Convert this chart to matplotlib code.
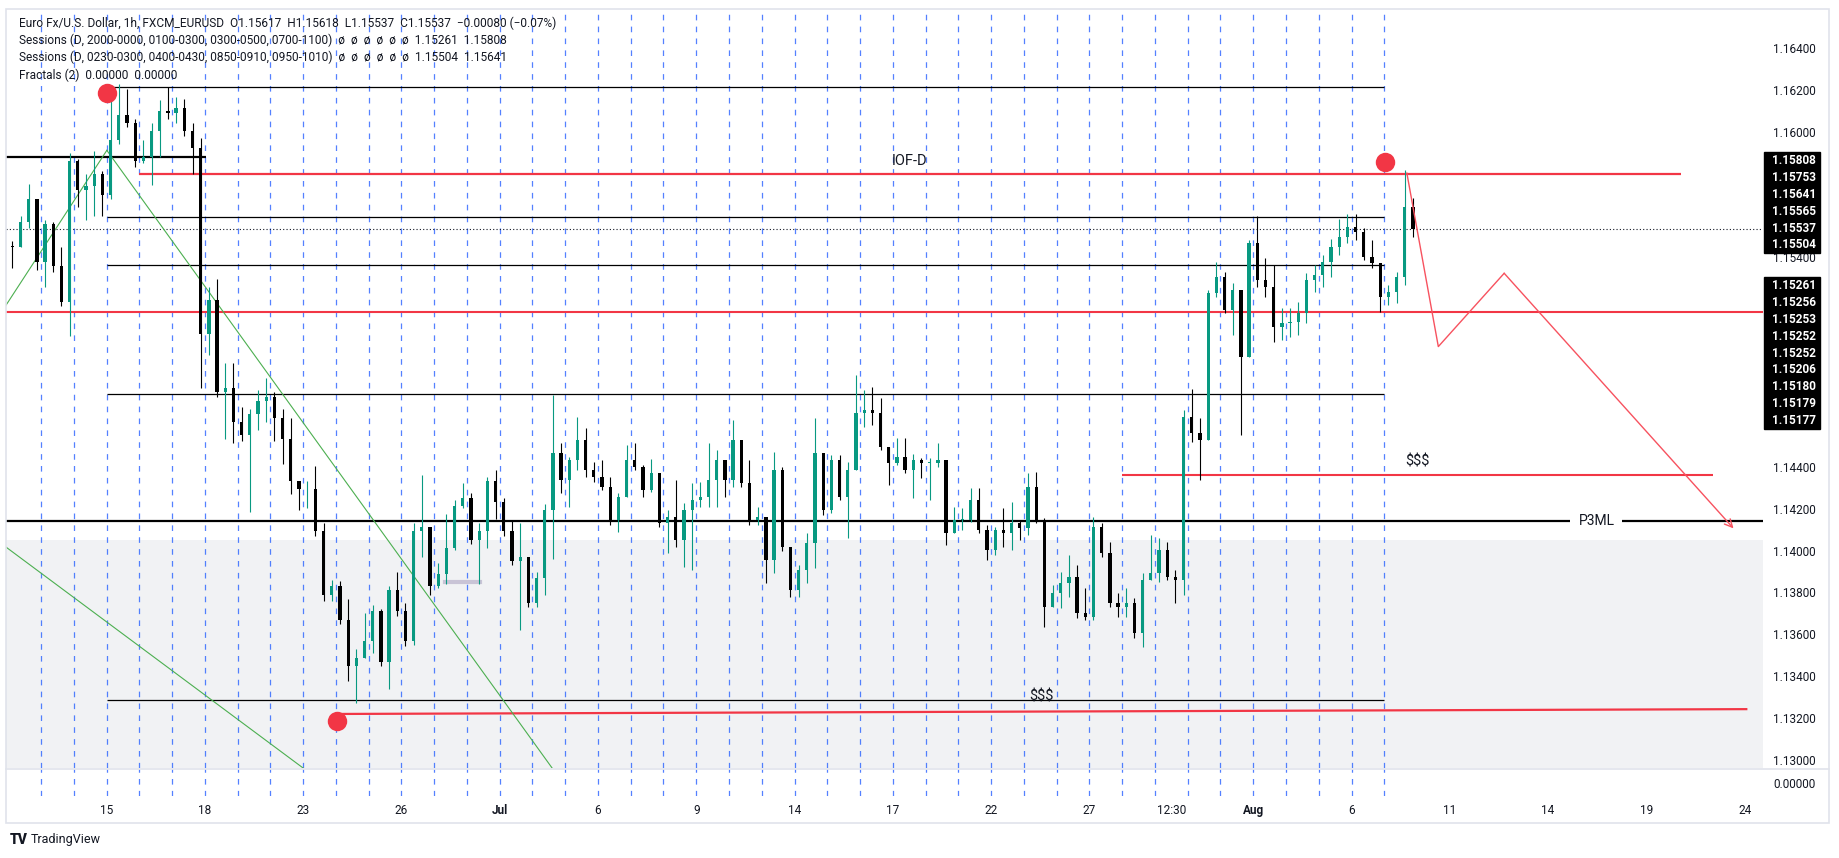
import numpy as np
import matplotlib.pyplot as plt
from matplotlib.patches import Rectangle

plt.rcParams['font.family'] = ['Roboto', 'DejaVu Sans']

W, H = 1840, 858

# EURUSD, grouped into 6h candles (4 per trading day)
# x unit = trading day index, first candle starts at day -1
first_day = -1.0
first_open = 1.15450
closes = [
    1.15448, 1.15569, 1.15680, 1.15378, 1.15559, 1.15358, 1.15187, 1.15860,
    1.15720, 1.15740, 1.15800, 1.15700, 1.15961, 1.16081, 1.16041, 1.15860,
    1.15880, 1.16001, 1.16101, 1.16091, 1.16112, 1.16001, 1.15921, 1.15036,
    1.15197, 1.14755, 1.14775, 1.14614, 1.14554, 1.14654, 1.14715, 1.14735,
    1.14634, 1.14534, 1.14333, 1.14292, 1.14292, 1.14092, 1.13790, 1.13830,
    1.13669, 1.13448, 1.13489, 1.13569, 1.13710, 1.13468, 1.13810, 1.13710,
    1.13569, 1.14092, 1.14112, 1.13830, 1.13890, 1.14011, 1.14212, 1.14252,
    1.14051, 1.14092, 1.14333, 1.14232, 1.14092, 1.13951, 1.13971, 1.13750,
    1.13870, 1.14192, 1.14464, 1.14337, 1.14433, 1.14528, 1.14385, 1.14353,
    1.14305, 1.14146, 1.14257, 1.14433, 1.14401, 1.14289, 1.14369, 1.14130,
    1.14162, 1.14050, 1.14194, 1.14241, 1.14257, 1.14337, 1.14433, 1.14337,
    1.14528, 1.14321, 1.14146, 1.14162, 1.13955, 1.14385, 1.14019, 1.13812,
    1.13907, 1.14035, 1.14464, 1.14194, 1.14433, 1.14257, 1.14385, 1.14655,
    1.14671, 1.14655, 1.14496, 1.14417, 1.14448, 1.14385, 1.14433, 1.14417,
    1.14417, 1.14433, 1.14082, 1.14146, 1.14146, 1.14241, 1.14098, 1.14003,
    1.14098, 1.14082, 1.14130, 1.14106, 1.14305, 1.14146, 1.13732, 1.13796,
    1.13844, 1.13875, 1.13700, 1.13684, 1.14114, 1.13987, 1.13748, 1.13732,
    1.13748, 1.13605, 1.13860, 1.13891, 1.14003, 1.13875, 1.13860, 1.14639,
    1.14560, 1.14528, 1.15228, 1.15308, 1.15149, 1.15244, 1.14926, 1.15467,
    1.15292, 1.15260, 1.15069, 1.15085, 1.15093, 1.15133, 1.15292, 1.15316,
    1.15380, 1.15451, 1.15499, 1.15547, 1.15523, 1.15404, 1.15372, 1.15213,
    1.15236, 1.15308, 1.15642, 1.15537,
]
highs = [
    1.15478, 1.15599, 1.15750, 1.15579, 1.15579, 1.15569, 1.15448, 1.15900,
    1.15870, 1.15800, 1.15910, 1.15810, 1.16218, 1.16226, 1.16202, 1.16061,
    1.15961, 1.16041, 1.16152, 1.16212, 1.16166, 1.16158, 1.16041, 1.15971,
    1.15257, 1.15298, 1.14896, 1.14896, 1.14684, 1.14674, 1.14765, 1.14825,
    1.14755, 1.14674, 1.14634, 1.14333, 1.14333, 1.14403, 1.14132, 1.13860,
    1.13854, 1.13770, 1.13529, 1.13700, 1.13740, 1.13720, 1.13830, 1.13900,
    1.13750, 1.14132, 1.14363, 1.14092, 1.13941, 1.14176, 1.14242, 1.14323,
    1.14276, 1.14132, 1.14353, 1.14383, 1.14252, 1.14142, 1.14132, 1.13971,
    1.13900, 1.14222, 1.14745, 1.14512, 1.14448, 1.14640, 1.14584, 1.14425,
    1.14433, 1.14353, 1.14273, 1.14504, 1.14512, 1.14409, 1.14436, 1.14361,
    1.14194, 1.14337, 1.14226, 1.14321, 1.14329, 1.14512, 1.14480, 1.14425,
    1.14624, 1.14528, 1.14433, 1.14210, 1.14074, 1.14472, 1.14401, 1.14003,
    1.13931, 1.14082, 1.14632, 1.14457, 1.14457, 1.14457, 1.14425, 1.14838,
    1.14767, 1.14783, 1.14727, 1.14496, 1.14536, 1.14536, 1.14461, 1.14441,
    1.14441, 1.14512, 1.14425, 1.14210, 1.14202, 1.14297, 1.14297, 1.14122,
    1.14114, 1.14202, 1.14233, 1.14146, 1.14369, 1.14377, 1.14154, 1.13836,
    1.13899, 1.13979, 1.13931, 1.13820, 1.14162, 1.14130, 1.14043, 1.13796,
    1.13820, 1.13772, 1.13891, 1.14074, 1.14059, 1.14043, 1.13907, 1.14671,
    1.14770, 1.14632, 1.15244, 1.15380, 1.15332, 1.15276, 1.15173, 1.15483,
    1.15598, 1.15396, 1.15364, 1.15157, 1.15157, 1.15189, 1.15324, 1.15364,
    1.15412, 1.15486, 1.15582, 1.15607, 1.15607, 1.15539, 1.15483, 1.15364,
    1.15268, 1.15332, 1.15817, 1.15682,
]
lows = [
    1.15348, 1.15478, 1.15539, 1.15338, 1.15257, 1.15328, 1.15167, 1.15026,
    1.15640, 1.15579, 1.15599, 1.15599, 1.15680, 1.15941, 1.16021, 1.15830,
    1.15850, 1.15744, 1.15880, 1.16061, 1.16041, 1.15981, 1.15800, 1.14775,
    1.14936, 1.14735, 1.14534, 1.14514, 1.14524, 1.14182, 1.14574, 1.14614,
    1.14524, 1.14413, 1.14272, 1.14192, 1.14202, 1.14071, 1.13760, 1.13760,
    1.13649, 1.13378, 1.13272, 1.13489, 1.13509, 1.13448, 1.13338, 1.13690,
    1.13543, 1.13549, 1.13971, 1.13790, 1.13820, 1.13840, 1.14001, 1.14202,
    1.14031, 1.13840, 1.14011, 1.14152, 1.14071, 1.13931, 1.13619, 1.13730,
    1.13730, 1.13790, 1.13960, 1.14273, 1.14210, 1.14385, 1.14353, 1.14329,
    1.14289, 1.14122, 1.14090, 1.14257, 1.14385, 1.14257, 1.14281, 1.14114,
    1.13987, 1.14019, 1.13923, 1.13907, 1.14210, 1.14210, 1.14210, 1.14257,
    1.14305, 1.14305, 1.14122, 1.14122, 1.13844, 1.13892, 1.13996, 1.13777,
    1.13780, 1.13844, 1.13915, 1.14170, 1.14178, 1.14242, 1.14059, 1.14385,
    1.14592, 1.14600, 1.14480, 1.14313, 1.14409, 1.14369, 1.14250, 1.14345,
    1.14242, 1.14401, 1.14027, 1.14082, 1.14098, 1.14138, 1.14082, 1.13955,
    1.13979, 1.14019, 1.14003, 1.14051, 1.14074, 1.14130, 1.13637, 1.13732,
    1.13724, 1.13780, 1.13676, 1.13669, 1.13669, 1.13971, 1.13732, 1.13684,
    1.13684, 1.13581, 1.13541, 1.13860, 1.13851, 1.13860, 1.13748, 1.13788,
    1.14520, 1.14337, 1.14528, 1.15213, 1.15133, 1.15030, 1.14552, 1.14926,
    1.15260, 1.15213, 1.14998, 1.15006, 1.15022, 1.15030, 1.15085, 1.15236,
    1.15260, 1.15308, 1.15412, 1.15467, 1.15483, 1.15388, 1.15348, 1.15141,
    1.15173, 1.15181, 1.15268, 1.15499,
]

# axis / labels (scale labels hidden under the value boxes are left out)
price_ticks = [1.130, 1.132, 1.134, 1.136, 1.138, 1.140, 1.142, 1.144,
               1.154, 1.160, 1.162, 1.164]
day_lines = list(range(0, 42))
date_pos = [2, 5, 8, 11, 14, 17, 20, 23, 26, 29, 32, 34.5, 37, 40, 43, 46, 49, 52]
date_lbl = ['15', '18', '23', '26', 'Jul', '6', '9', '14', '17', '22', '27',
            '12:30', 'Aug', '6', '11', '14', '19', '24']

# drawn levels
session_lines = [1.16212, 1.15595, 1.15364, 1.14747, 1.13288]
session_span = (2.0, 41.0)
black_left = 1.15880
iof_level = 1.15798
mid_red = 1.15137
sss_level = 1.14361
p3ml = 1.14142
low_red = (1.13220, 1.13243)
current = 1.15537
grey_top = 1.14050
fractal_days = [2.01, 41.03, 9.04]
fractal_px = [1.16186, 1.15857, 1.13186]
green_a = ([-1.07, 2.01], [1.15171, 1.15911])
green_b = ([2.01, 15.6], [1.15911, 1.12962])
green_c = ([-1.07, 8.0], [1.14017, 1.12962])
proj_days = [41.69, 42.65, 44.66, 51.66]
proj_px = [1.15802, 1.14974, 1.15324, 1.14106]

box1 = ['1.15808', '1.15753', '1.15641', '1.15565', '1.15537', '1.15504']
box2 = ['1.15261', '1.15256', '1.15253', '1.15252', '1.15252', '1.15206',
        '1.15180', '1.15179', '1.15177']

legend_lines = [
    'Euro Fx/U.S. Dollar, 1h, FXCM_EURUSD  O1.15617  H1.15618  L1.15537  C1.15537  \u22120.00080 (\u22120.07%)',
    'Sessions (D, 2000-0000, 0100-0300, 0300-0500, 0700-1100)  \u00f8  \u00f8  \u00f8  \u00f8  \u00f8  \u00f8  1.15261  1.15808',
    'Sessions (D, 0230-0300, 0400-0430, 0850-0910, 0950-1010)  \u00f8  \u00f8  \u00f8  \u00f8  \u00f8  \u00f8  1.15504  1.15641',
    'Fractals (2)  0.00000  0.00000',
]

RED = '#f23645'
TEAL = '#089981'
INK = '#131722'
BLUE = '#2962ff'

fig = plt.figure(figsize=(W / 100, H / 100), dpi=100)
fig.patch.set_facecolor('white')


def fx(px):
    return px / W


def fy(py):
    return 1 - py / H


ax = fig.add_axes([fx(6), fy(768), fx(1763 - 6), (768 - 10) / H])
ax2 = fig.add_axes([fx(6), fy(796), fx(1763 - 6), (796 - 769) / H])

x0, x1 = -1.068, 52.56
y0, y1 = 1.12962, 1.16581
for a in (ax, ax2):
    a.set_xlim(x0, x1)
    for s in a.spines.values():
        s.set_visible(False)
ax.set_ylim(y0, y1)
ax2.set_ylim(-1, 1)

# grey zone
ax.axhspan(y0, grey_top, color='#f1f2f4', zorder=0, lw=0)

# day separators
for a, (lo, hi) in ((ax, (y0, y1)), (ax2, (-1, 1))):
    a.vlines(day_lines, lo, hi, colors=BLUE, linestyles=(0, (4.5, 5)),
             lw=0.9, alpha=0.8, zorder=1)

# session level lines
ax.hlines(session_lines, *session_span, colors='black', lw=0.9, zorder=3)
ax.hlines(black_left, x0, 5.04, colors='black', lw=1.6, zorder=3)
ax.hlines(iof_level, 3.0, 50.06, colors=RED, lw=1.6, zorder=3)
ax.hlines(mid_red, x0, x1, colors=RED, lw=1.5, zorder=3)
ax.hlines(sss_level, 33.0, 51.04, colors=RED, lw=1.5, zorder=3)
ax.hlines(p3ml, x0, 46.67, colors='black', lw=1.6, zorder=3)
ax.hlines(p3ml, 48.26, x1, colors='black', lw=1.6, zorder=3)
ax.plot([9.04, 52.05], list(low_red), color=RED, lw=1.6, zorder=3)
ax.axhline(current, color=INK, lw=0.8, ls=(0, (1, 2)), zorder=3)
ax.plot([12.33, 13.4], [1.1385, 1.1385], color='#c9c4d6', lw=3, zorder=2)

# green trend lines
for gx, gy in (green_a, green_b, green_c):
    ax.plot(gx, gy, color='#4caf50', lw=0.8, zorder=3)

# candles
n = len(closes)
xs = first_day + 0.25 * np.arange(n) + 0.125
c = np.array(closes)
o = np.concatenate([[first_open], c[:-1]])
h = np.maximum(np.array(highs), np.maximum(o, c))
l = np.minimum(np.array(lows), np.minimum(o, c))
cols = [TEAL if cc >= oo else 'black' for oo, cc in zip(o, c)]
ax.vlines(xs, l, h, colors=cols, lw=0.8, zorder=4)
body = np.where(np.abs(c - o) < 0.00004, 0.00004, c - o)
ax.bar(xs, body, bottom=o, width=0.1, color=cols, lw=0, zorder=4)

# fractal circles
ax.plot(fractal_days, fractal_px, 'o', color=RED, ms=14, mec='none', zorder=6)

# projection path
ax.plot(proj_days[:3], proj_px[:3], color='#f7525f', lw=1.0, zorder=5)
ax.annotate('', xy=(proj_days[3], proj_px[3]), xytext=(proj_days[2], proj_px[2]),
            arrowprops=dict(arrowstyle='->', color='#f7525f', lw=1.0,
                            mutation_scale=14, shrinkA=0, shrinkB=0), zorder=5)

# text labels on chart
ax.text(26.5, 1.1586, 'IOF-D', fontsize=10.5, color=INK, ha='center', va='center', zorder=6)
ax.text(42.0, 1.14423, '$$$', fontsize=10.5, color=INK, ha='center', va='center', zorder=6)
ax.text(30.53, 1.13305, '$$$', fontsize=10.5, color=INK, ha='center', va='center', zorder=6)
ax.text(47.5, p3ml, 'P3ML', fontsize=10, color=INK, ha='center', va='center', zorder=6)

# price scale
ax.yaxis.tick_right()
ax.set_yticks(price_ticks, [f'{p:.5f}' for p in price_ticks])
ax.tick_params(axis='y', length=0, pad=7.5, labelsize=8.5, labelcolor=INK)
ax.set_xticks([])
ax2.yaxis.tick_right()
ax2.set_yticks([0], ['0.00000'])
ax2.tick_params(axis='y', length=0, pad=7.5, labelsize=8.5, labelcolor=INK)
ax2.set_xticks(date_pos, date_lbl)
ax2.tick_params(axis='x', length=0, pad=6, labelsize=8.5, labelcolor=INK)
for t in ax2.get_xticklabels():
    if t.get_text() in ('Jul', 'Aug'):
        t.set_fontweight('bold')

# value boxes on the price scale
for vals, top in ((box1, 152), (box2, 277)):
    rh = 16.9
    fig.add_artist(Rectangle((fx(1764), fy(top + rh * len(vals))), fx(56), rh * len(vals) / H,
                             transform=fig.transFigure, color='black', zorder=10))
    for k, v in enumerate(vals):
        fig.text(fx(1772), fy(top + rh * (k + 0.5)), v, color='white', fontsize=8.5,
                 fontweight='bold', va='center', ha='left', zorder=11)

# frame and pane separator
fig.add_artist(Rectangle((fx(6), fy(823)), fx(1829 - 6), (823 - 9) / H, transform=fig.transFigure,
                         fill=False, edgecolor='#e0e3eb', lw=1.2, zorder=12))
fig.add_artist(plt.Line2D([fx(6), fx(1829)], [fy(768.5), fy(768.5)], transform=fig.transFigure,
                          color='#e0e3eb', lw=1.2, zorder=12))

# legend
for k, line in enumerate(legend_lines):
    fig.text(fx(19), fy(23 + 17.4 * k), line, fontsize=8.6, color=INK, va='center', ha='left', zorder=11)

fig.text(fx(10), fy(840), 'TV', fontsize=10, fontweight='black', color=INK, va='center')
fig.text(fx(31), fy(840), 'TradingView', fontsize=9, color=INK, va='center')

fig.savefig('out.png', dpi=100, facecolor='white')
